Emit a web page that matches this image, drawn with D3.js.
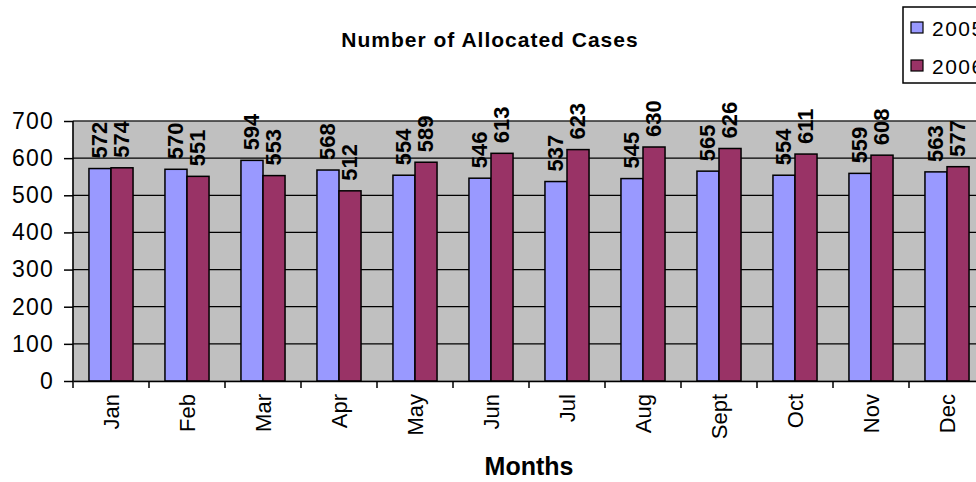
<!DOCTYPE html>
<html>
<head>
<meta charset="utf-8">
<script src="https://cdn.jsdelivr.net/npm/d3@7"></script>
<style>
  body { margin: 0; background: #fff; }
  svg { display: block; font-family: "Liberation Sans", Arial, sans-serif; }
</style>
</head>
<body>
<svg id="chart" width="976" height="482"></svg>
<script>
var months = ["Jan", "Feb", "Mar", "Apr", "May", "Jun", "Jul", "Aug", "Sept", "Oct", "Nov", "Dec"];
var cases2005 = [572, 570, 594, 568, 554, 546, 537, 545, 565, 554, 559, 563];
var cases2006 = [574, 551, 553, 512, 589, 613, 623, 630, 626, 611, 608, 577];
var seriesNames = ["2005", "2006"];
var yTicks = [0, 100, 200, 300, 400, 500, 600, 700];

var svg = d3.select("#chart"),
    margin = {top: 121, left: 73},
    width = 912,
    height = 260;

var colors = {"2005": "#9999ff", "2006": "#993366"};

var data = months.map(function(m, i) {
    return {month: m, "2005": cases2005[i], "2006": cases2006[i]};
});

var x0 = d3.scaleBand().domain(months).range([0, width]).paddingInner(0.42).paddingOuter(0.21);
var x1 = d3.scaleBand().domain(seriesNames).range([0, x0.bandwidth()]);
var xc = d3.scaleBand().domain(months).range([0, width]);
var y = d3.scaleLinear().domain([0, 700]).range([height, 0]);

var g = svg.append("g")
    .attr("transform", "translate(" + margin.left + "," + margin.top + ")");

// plot background
g.append("rect")
    .attr("width", width)
    .attr("height", height)
    .attr("fill", "#c0c0c0")
    .attr("stroke", "#808080");

// gridlines
g.selectAll(".grid")
    .data(yTicks.slice(1))
    .enter().append("line")
    .attr("x1", 0).attr("x2", width)
    .attr("y1", function(d) { return y(d); })
    .attr("y2", function(d) { return y(d); })
    .attr("stroke", "#000")
    .attr("stroke-width", 1.2);

// bars
var groups = g.selectAll(".month")
    .data(data)
    .enter().append("g")
    .attr("transform", function(d) { return "translate(" + x0(d.month) + ",0)"; });

groups.selectAll("rect")
    .data(function(d) { return seriesNames.map(function(k) { return {key: k, value: d[k]}; }); })
    .enter().append("rect")
    .attr("x", function(d) { return x1(d.key); })
    .attr("y", function(d) { return y(d.value); })
    .attr("width", x1.bandwidth())
    .attr("height", function(d) { return height - y(d.value); })
    .attr("fill", function(d) { return colors[d.key]; })
    .attr("stroke", "#000")
    .attr("stroke-width", 1.5);

groups.selectAll(".lbl")
    .data(function(d) { return seriesNames.map(function(k) { return {key: k, value: d[k]}; }); })
    .enter().append("text")
    .attr("transform", function(d) {
        return "translate(" + (x1(d.key) + x1.bandwidth() / 2 - 1) + "," + (y(d.value) - 10) + ") rotate(-90)";
    })
    .attr("dy", "0.36em")
    .style("font-size", "22px")
    .style("font-weight", "bold")
    .text(function(d) { return d.value; });

// y axis
var yAxis = g.append("g")
    .call(d3.axisLeft(y).tickValues(yTicks).tickSize(9).tickPadding(10));
yAxis.select(".domain").attr("stroke", "#000").attr("stroke-width", 1.5).attr("d", "M0," + height + "V0");
yAxis.selectAll(".tick line").attr("stroke-width", 1.5);
yAxis.selectAll("text").style("font-size", "23px").style("letter-spacing", "1.2px").attr("fill", "#000");

// x axis
var xAxis = g.append("g")
    .attr("transform", "translate(0," + height + ")")
    .call(d3.axisBottom(xc).tickSize(0).tickFormat(""));
xAxis.select(".domain").attr("stroke-width", 1.5);

g.append("g")
    .selectAll("line")
    .data(months)
    .enter().append("line")
    .attr("x1", function(d) { return xc(d); })
    .attr("x2", function(d) { return xc(d); })
    .attr("y1", height).attr("y2", height + 7)
    .attr("stroke", "#000")
    .attr("stroke-width", 1.5);

g.append("g")
    .selectAll("text")
    .data(months)
    .enter().append("text")
    .attr("transform", function(d) {
        return "translate(" + (xc(d) + xc.bandwidth() / 2) + "," + (height + 13) + ") rotate(-90)";
    })
    .attr("dy", "0.36em")
    .attr("text-anchor", "end")
    .style("font-size", "22px")
    .text(function(d) { return d; });

// titles
svg.append("text")
    .attr("x", 490).attr("y", 47)
    .attr("text-anchor", "middle")
    .style("font-size", "21px")
    .style("font-weight", "bold")
    .style("letter-spacing", "1px")
    .text("Number of Allocated Cases");

svg.append("text")
    .attr("x", 529).attr("y", 475)
    .attr("text-anchor", "middle")
    .style("font-size", "25px")
    .style("font-weight", "bold")
    .text("Months");

// legend
var legend = svg.append("g").attr("transform", "translate(903,7)");
legend.append("rect")
    .attr("width", 100).attr("height", 76)
    .attr("fill", "#fff").attr("stroke", "#000").attr("stroke-width", 1.5);
var items = legend.selectAll(".item")
    .data(seriesNames)
    .enter().append("g")
    .attr("transform", function(d, i) { return "translate(8," + (15 + i * 38) + ")"; });
items.append("rect")
    .attr("width", 12).attr("height", 11)
    .attr("fill", function(d) { return colors[d]; })
    .attr("stroke", "#000").attr("stroke-width", 1.2);
items.append("text")
    .attr("x", 21).attr("y", 6)
    .attr("dy", "0.36em")
    .style("font-size", "21px")
    .style("letter-spacing", "1.5px")
    .text(function(d) { return d; });
</script>
</body>
</html>
